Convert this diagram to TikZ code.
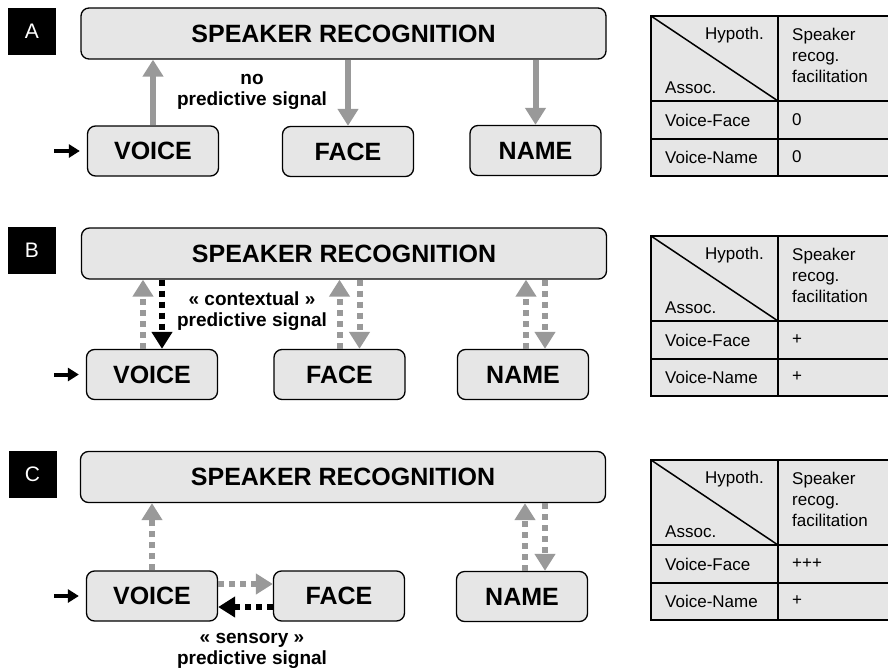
\documentclass[tikz,border=0pt]{standalone}
\usepackage{fontspec}
\setmainfont{Liberation Sans}
\usetikzlibrary{arrows.meta}
\definecolor{boxgray}{HTML}{E6E6E6}
\definecolor{arrowgray}{HTML}{999999}

\begin{document}
\begin{tikzpicture}[x=1pt, y=-1pt,
    panel/.style={fill=black, text=white, minimum width=48pt, minimum height=47pt, inner sep=0pt, font=\fontsize{21}{21}\selectfont},
    spk/.style={draw, line width=1.3pt, rounded corners=8pt, fill=boxgray, minimum width=525pt, minimum height=51pt, inner sep=0pt, font=\bfseries\fontsize{25}{25}\selectfont},
    modal/.style={spk, minimum width=131pt, minimum height=50pt},
    sig/.style={align=center, inner sep=0pt, font=\bfseries\fontsize{19}{21}\selectfont},
    solidg/.style={draw=arrowgray, line width=6pt, -{Triangle[width=20pt,length=17pt]}},
    dotg/.style={draw=arrowgray, line width=6pt, dash pattern=on 6pt off 5pt, -{Triangle[width=20pt,length=17pt]}},
    dotk/.style={draw=black, line width=6pt, dash pattern=on 6pt off 5pt, -{Triangle[width=20pt,length=17pt]}},
    inarrow/.style={line width=4pt, shorten >=7pt, -{Triangle[width=13pt,length=11pt]}},
    tabtxt/.style={inner sep=0pt, font=\fontsize{17}{21}\selectfont},
    tabline/.style={line width=1.5pt},
    tabout/.style={line width=2.5pt}]
    \useasboundingbox (0,0) rectangle (888,669);

    % Panel A
    \node[panel] (labA) at (32,31.5) {A};
    \node[spk] (spkA) at (343.5,33.5) {SPEAKER RECOGNITION};
    \node[modal] (voiceA) at (153,151) {VOICE};
    \node[modal] (faceA) at (348,151.5) {FACE};
    \node[modal] (nameA) at (535.5,150.5) {NAME};
    \coordinate (inA) at (54,151);
    \draw[inarrow] (inA) -- (voiceA.west);
    \draw[solidg] (voiceA.north) -- (voiceA.north |- spkA.south);
    \draw[solidg] (faceA.north |- spkA.south) -- (faceA.north);
    \draw[solidg] (nameA.north |- spkA.south) -- (nameA.north);
    \node[sig] (sigA) at (252,92) {no\\predictive signal};

    % Panel B
    \node[panel] (labB) at (32,250.5) {B};
    \node[spk] (spkB) at (344,253.5) {SPEAKER RECOGNITION};
    \node[modal] (voiceB) at (152,374.5) {VOICE};
    \node[modal] (faceB) at (339.5,374.5) {FACE};
    \node[modal] (nameB) at (523,374.5) {NAME};
    \coordinate (inB) at (54,374.5);
    \draw[inarrow] (inB) -- (voiceB.west);
    \draw[dotg] ([xshift=-9pt]voiceB.north) -- ([xshift=-9pt]voiceB.north |- spkB.south);
    \draw[dotk] ([xshift=10pt]voiceB.north |- spkB.south) -- ([xshift=10pt]voiceB.north);
    \draw[dotg] (faceB.north) -- (faceB.north |- spkB.south);
    \draw[dotg] ([xshift=20pt]faceB.north |- spkB.south) -- ([xshift=20pt]faceB.north);
    \draw[dotg] ([xshift=3pt]nameB.north) -- ([xshift=3pt]nameB.north |- spkB.south);
    \draw[dotg] ([xshift=22pt]nameB.north |- spkB.south) -- ([xshift=22pt]nameB.north);
    \node[sig] (sigB) at (252,311) {« contextual »\\predictive signal};

    % Panel C
    \node[panel] (labC) at (32.5,474) {C};
    \node[spk] (spkC) at (343,477) {SPEAKER RECOGNITION};
    \node[modal] (voiceC) at (152,596) {VOICE};
    \node[modal] (faceC) at (339,596) {FACE};
    \node[modal] (nameC) at (522,596.5) {NAME};
    \coordinate (inC) at (54,596);
    \draw[inarrow] (inC) -- (voiceC.west);
    \draw[dotg] (voiceC.north) -- (voiceC.north |- spkC.south);
    \draw[dotg] ([yshift=12pt]voiceC.east) -- ([yshift=12pt]faceC.west);
    \draw[dotk] ([yshift=-11pt]faceC.west) -- ([yshift=-11pt]voiceC.east);
    \draw[dotg] ([xshift=3pt]nameC.north) -- ([xshift=3pt]nameC.north |- spkC.south);
    \draw[dotg] ([xshift=23pt]nameC.north |- spkC.south) -- ([xshift=23pt]nameC.north);
    \node[sig] (sigC) at (252,651) {« sensory »\\predictive signal};

    % Table A
    \fill[boxgray] (651,16) rectangle (888,176);
    \draw[tabline] (651,101) -- (888,101);
    \draw[tabline] (651,139) -- (888,139);
    \draw[tabline] (778,16) -- (778,176);
    \draw[tabline] (651,16) -- (778,101);
    \draw[tabout] (888,16) -- (651,16) -- (651,176) -- (888,176);
    \node[tabtxt, anchor=east] (hypA) at (764,35) {Hypoth.};
    \node[tabtxt, anchor=west] (assA) at (665,88) {Assoc.};
    \node[tabtxt, anchor=north west, align=left] (colA) at (792,28) {Speaker\\recog.\\facilitation};
    \node[tabtxt, anchor=west] (vfA) at (665,120) {Voice-Face};
    \node[tabtxt, anchor=west] (vfvalA) at (792,120) {0};
    \node[tabtxt, anchor=west] (vnA) at (665,157) {Voice-Name};
    \node[tabtxt, anchor=west] (vnvalA) at (792,157) {0};

    % Table B
    \fill[boxgray] (651,236) rectangle (888,396);
    \draw[tabline] (651,321) -- (888,321);
    \draw[tabline] (651,359) -- (888,359);
    \draw[tabline] (778,236) -- (778,396);
    \draw[tabline] (651,236) -- (778,321);
    \draw[tabout] (888,236) -- (651,236) -- (651,396) -- (888,396);
    \node[tabtxt, anchor=east] (hypB) at (764,255) {Hypoth.};
    \node[tabtxt, anchor=west] (assB) at (665,308) {Assoc.};
    \node[tabtxt, anchor=north west, align=left] (colB) at (792,248) {Speaker\\recog.\\facilitation};
    \node[tabtxt, anchor=west] (vfB) at (665,340) {Voice-Face};
    \node[tabtxt, anchor=west] (vfvalB) at (792,340) {+};
    \node[tabtxt, anchor=west] (vnB) at (665,377) {Voice-Name};
    \node[tabtxt, anchor=west] (vnvalB) at (792,377) {+};

    % Table C
    \fill[boxgray] (651,460) rectangle (888,620);
    \draw[tabline] (651,545) -- (888,545);
    \draw[tabline] (651,583) -- (888,583);
    \draw[tabline] (778,460) -- (778,620);
    \draw[tabline] (651,460) -- (778,545);
    \draw[tabout] (888,460) -- (651,460) -- (651,620) -- (888,620);
    \node[tabtxt, anchor=east] (hypC) at (764,479) {Hypoth.};
    \node[tabtxt, anchor=west] (assC) at (665,532) {Assoc.};
    \node[tabtxt, anchor=north west, align=left] (colC) at (792,472) {Speaker\\recog.\\facilitation};
    \node[tabtxt, anchor=west] (vfC) at (665,564) {Voice-Face};
    \node[tabtxt, anchor=west] (vfvalC) at (792,564) {+++};
    \node[tabtxt, anchor=west] (vnC) at (665,601) {Voice-Name};
    \node[tabtxt, anchor=west] (vnvalC) at (792,601) {+};

\end{tikzpicture}
\end{document}
